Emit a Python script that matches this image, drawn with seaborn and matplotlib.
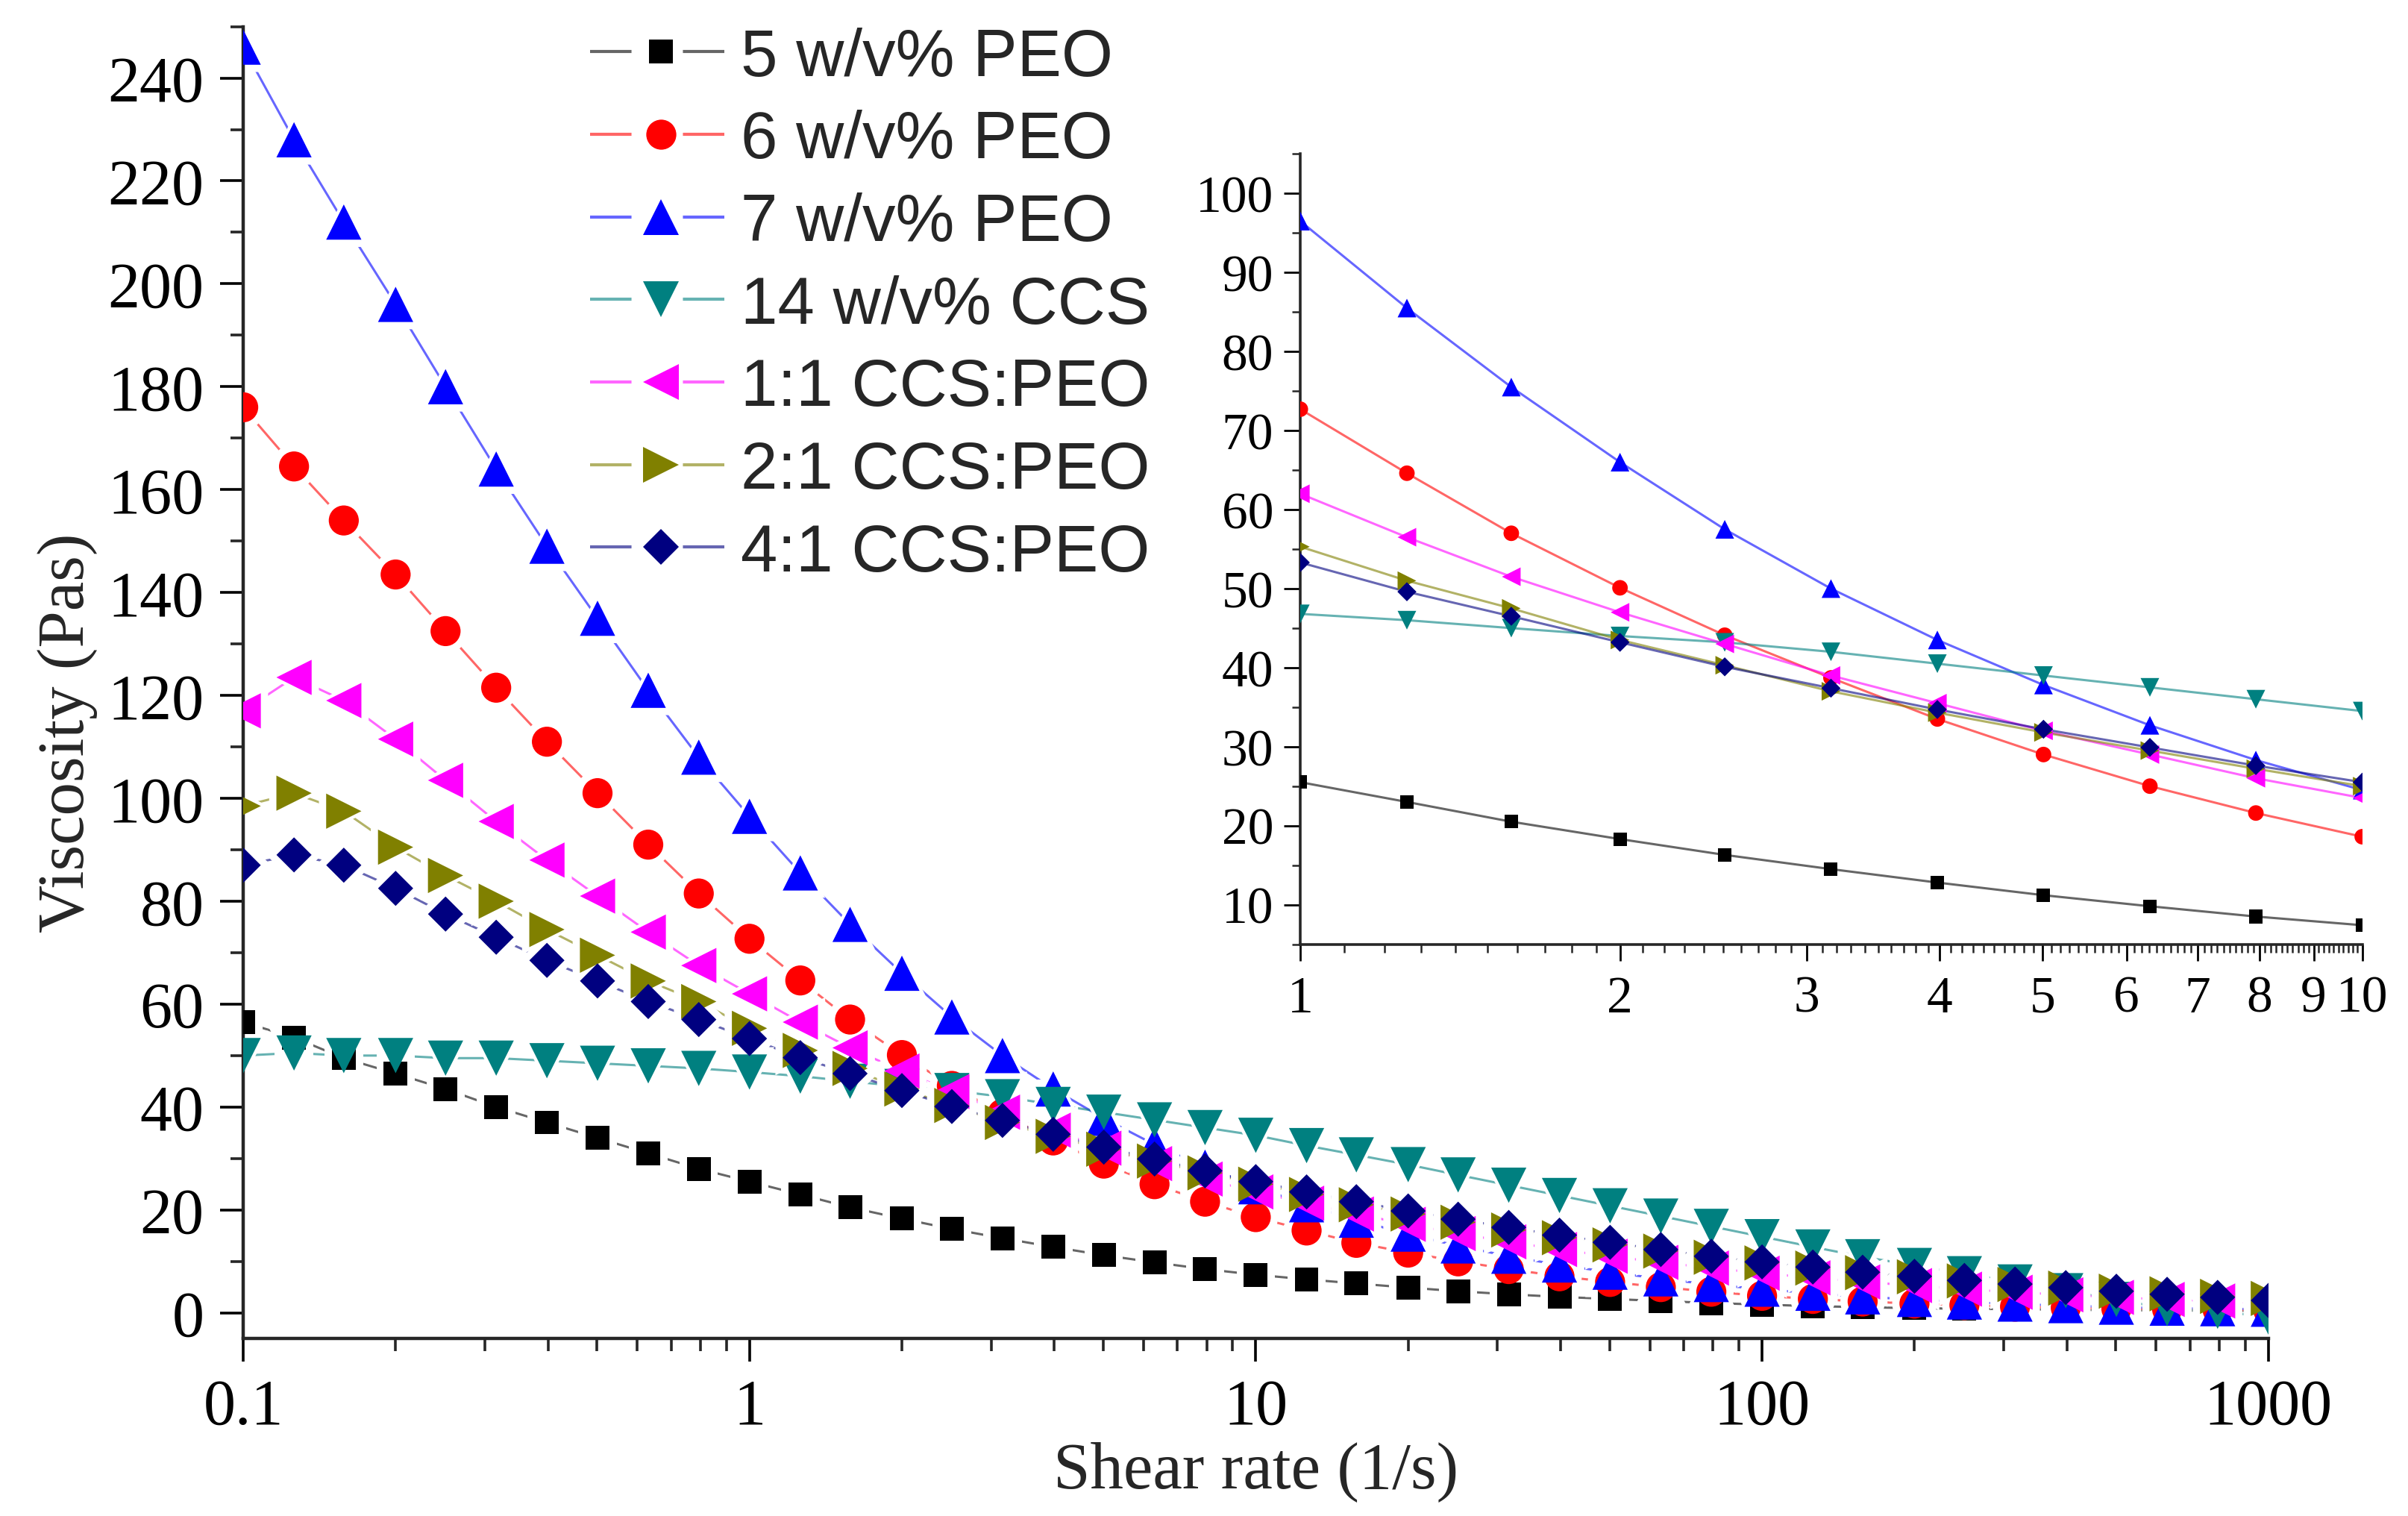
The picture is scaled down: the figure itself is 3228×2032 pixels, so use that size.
import numpy as np
import pandas as pd
import matplotlib
matplotlib.use("Agg")
import matplotlib.pyplot as plt
from matplotlib.lines import Line2D
from matplotlib.ticker import FixedLocator, NullFormatter, LogLocator, MultipleLocator
from matplotlib.colors import to_rgba
import seaborn as sns

# ---------------- data ----------------
shear_rate = [0.1, 0.126, 0.158, 0.2, 0.251, 0.316, 0.398, 0.501, 0.631, 0.794,
              1.0, 1.26, 1.58, 2.0, 2.51, 3.16, 3.98, 5.01, 6.31, 7.94,
              10.0, 12.6, 15.8, 20.0, 25.1, 31.6, 39.8, 50.1, 63.1, 79.4,
              100.0, 126.0, 158.0, 200.0, 251.0, 316.0, 398.0, 501.0, 631.0, 794.0, 1000.0]

peo5 = [56.5, 53.5, 49.5, 46.5, 43.5, 40.0, 37.0, 34.0, 31.0, 28.0,
        25.5, 23.0, 20.5, 18.3, 16.3, 14.5, 12.8, 11.2, 9.8, 8.5,
        7.4, 6.5, 5.7, 4.9, 4.2, 3.6, 3.1, 2.7, 2.3, 1.9,
        1.6, 1.3, 1.1, 0.9, 0.8, 0.7, 0.6, 0.5, 0.45, 0.4, 0.35]
peo6 = [176.0, 164.5, 154.0, 143.5, 132.5, 121.5, 111.0, 101.0, 91.0, 81.5,
        72.7, 64.6, 57.0, 50.1, 44.1, 38.7, 33.5, 29.0, 25.0, 21.6,
        18.6, 16.0, 13.6, 11.7, 10.0, 8.5, 7.1, 6.0, 5.0, 4.1,
        3.3, 2.7, 2.2, 1.8, 1.5, 1.2, 1.0, 0.8, 0.7, 0.6, 0.5]
peo7 = [246.0, 228.0, 212.0, 196.0, 180.0, 164.0, 149.0, 135.0, 121.0, 108.0,
        96.5, 85.5, 75.5, 66.0, 57.5, 50.0, 43.5, 37.8, 32.7, 28.3,
        24.5, 21.0, 18.0, 15.3, 13.0, 11.0, 9.3, 7.9, 6.6, 5.5,
        4.6, 3.8, 3.1, 2.6, 2.1, 1.7, 1.4, 1.1, 0.9, 0.8, 0.7]
ccs14 = [50.0, 50.5, 50.0, 50.0, 49.5, 49.5, 49.0, 48.5, 48.0, 47.5,
         46.8, 46.0, 45.0, 44.0, 43.2, 42.0, 40.5, 39.0, 37.5, 36.0,
         34.5, 32.5, 30.7, 28.8, 26.8, 24.8, 22.8, 20.8, 18.8, 16.8,
         14.8, 12.8, 10.9, 9.2, 7.6, 6.0, 4.3, 2.6, 0.8, 0.3, -0.8]
ccs_peo_11 = [117.0, 123.5, 119.0, 111.5, 103.5, 95.5, 88.0, 81.0, 74.0, 67.5,
              62.0, 56.5, 51.5, 47.0, 43.0, 39.0, 35.5, 32.0, 29.0, 26.0,
              23.5, 21.3, 19.2, 17.2, 15.4, 13.8, 12.3, 11.0, 9.8, 8.7,
              7.7, 6.8, 6.0, 5.3, 4.6, 4.0, 3.5, 3.0, 2.6, 2.3, 2.0]
ccs_peo_21 = [98.5, 101.0, 97.5, 90.5, 85.0, 80.0, 74.5, 69.5, 64.5, 60.5,
              55.3, 51.0, 47.5, 43.5, 40.3, 37.0, 34.3, 31.8, 29.5, 27.2,
              25.0, 23.0, 21.0, 19.2, 17.6, 16.1, 14.6, 13.2, 12.0, 10.8,
              9.7, 8.7, 7.8, 7.0, 6.2, 5.5, 4.8, 4.2, 3.7, 3.2, 2.8]
ccs_peo_41 = [87.0, 89.0, 87.0, 82.5, 77.5, 73.0, 68.5, 64.5, 60.5, 57.0,
              53.3, 49.6, 46.5, 43.2, 40.1, 37.4, 34.7, 32.2, 29.9, 27.6,
              25.5, 23.5, 21.6, 19.8, 18.2, 16.6, 15.1, 13.7, 12.3, 11.0,
              9.9, 8.9, 7.9, 7.1, 6.3, 5.6, 4.9, 4.2, 3.6, 3.0, 2.4]

series_names = ["5 w/v% PEO", "6 w/v% PEO", "7 w/v% PEO", "14 w/v% CCS",
                "1:1 CCS:PEO", "2:1 CCS:PEO", "4:1 CCS:PEO"]
series_values = [peo5, peo6, peo7, ccs14, ccs_peo_11, ccs_peo_21, ccs_peo_41]
series_colors = ["#000000", "#FF0000", "#0000FF", "#008080", "#FF00FF", "#808000", "#000080"]
series_markers = ["s", "o", "^", "v", "<", ">", "D"]
main_msize = [11.5, 14.5, 17.0, 17.0, 17.0, 17.0, 12.0]
inset_msize = [6.5, 7.5, 9.0, 9.0, 9.0, 9.0, 6.5]

inset_range = (1.0, 10.0)

# ---------------- table ----------------
frames = []
for name, vals in zip(series_names, series_values):
    frames.append(pd.DataFrame({"shear": shear_rate, "viscosity": vals, "series": name}))
df = pd.concat(frames, ignore_index=True)
df_in = df[(df["shear"] >= inset_range[0] - 1e-9) & (df["shear"] <= inset_range[1] + 1e-9)]

palette = dict(zip(series_names, series_colors))
line_palette = {k: to_rgba(c, 0.6) for k, c in palette.items()}
markers = dict(zip(series_names, series_markers))
sizes_main = {k: s ** 2 for k, s in zip(series_names, main_msize)}
sizes_halo = {k: (s + 7.0) ** 2 for k, s in zip(series_names, main_msize)}
sizes_in = {k: s ** 2 for k, s in zip(series_names, inset_msize)}

# ---------------- style ----------------
sns.set_theme(style="ticks")
plt.rcParams["font.family"] = ["Liberation Serif", "DejaVu Serif"]
plt.rcParams["lines.scale_dashes"] = False
plt.rcParams["mathtext.default"] = "regular"

fig = plt.figure(figsize=(16.14, 10.165), dpi=200)
ax = fig.add_axes([0.101, 0.117, 0.841, 0.865])
ins = fig.add_axes([0.540, 0.377, 0.441, 0.521])

# ---------------- main plot ----------------
sns.lineplot(data=df, x="shear", y="viscosity", hue="series", palette=line_palette,
             estimator=None, sort=False, legend=False, ax=ax, linewidth=1.1, zorder=1)
sns.scatterplot(data=df, x="shear", y="viscosity", style="series", markers=markers,
                size="series", sizes=sizes_halo, color="white", linewidth=0,
                legend=False, ax=ax, zorder=2)
sns.scatterplot(data=df, x="shear", y="viscosity", hue="series", palette=palette,
                style="series", markers=markers, size="series", sizes=sizes_main,
                linewidth=0, legend=False, ax=ax, zorder=3)

ax.set_xscale("log")
ax.set_xlim(0.1, 1000)
ax.set_ylim(-5, 250)
ax.xaxis.set_major_locator(FixedLocator([0.1, 1, 10, 100, 1000]))
ax.set_xticklabels(["0.1", "1", "10", "100", "1000"])
ax.xaxis.set_minor_locator(LogLocator(base=10, subs=np.arange(2, 10)))
ax.xaxis.set_minor_formatter(NullFormatter())
ax.set_yticks(np.arange(0, 241, 20))
ax.yaxis.set_minor_locator(MultipleLocator(10))

for side in ["top", "right"]:
    ax.spines[side].set_visible(False)
for side in ["left", "bottom"]:
    ax.spines[side].set_linewidth(1.6)
ax.tick_params(axis="both", which="major", direction="out", length=11, width=1.3,
               labelsize=31, pad=8, colors="black")
ax.tick_params(axis="both", which="minor", direction="out", length=6, width=1.3)
ax.set_xlabel("Shear rate (1/s)", fontsize=32)
ax.set_ylabel("Viscosity (Pas)", fontsize=32)
ax.xaxis.set_label_coords(0.5, -0.078)
ax.yaxis.set_label_coords(-0.072, 0.462)
ax.set_facecolor("white")

# legend
handles = []
for name, col, mk, ms in zip(series_names, series_colors, series_markers, main_msize):
    handles.append(Line2D([], [], color=to_rgba(col, 0.6), linewidth=1.5,
                          linestyle=(0, (20.0, 24.8)), marker=mk, markersize=ms,
                          markerfacecolor=col, markeredgecolor=col, markeredgewidth=0))
leg = fig.legend(handles=handles, labels=series_names, loc="upper left",
                 bbox_to_anchor=(0.245, 0.982), frameon=False,
                 prop={"family": "Liberation Sans", "size": 32},
                 handlelength=2.15, handletextpad=0.12, labelspacing=0.30,
                 borderaxespad=0, borderpad=0)

# ---------------- inset ----------------
sns.lineplot(data=df_in, x="shear", y="viscosity", hue="series", palette=line_palette,
             estimator=None, sort=False, legend=False, ax=ins, linewidth=1.1, zorder=1)
sns.scatterplot(data=df_in, x="shear", y="viscosity", hue="series", palette=palette,
                style="series", markers=markers, size="series", sizes=sizes_in,
                linewidth=0, legend=False, ax=ins, zorder=3)
ins.set_xscale("log")
ins.set_xlim(*inset_range)
ins.set_ylim(5, 105)
ins.xaxis.set_major_locator(FixedLocator(list(range(1, 11))))
ins.set_xticklabels([str(i) for i in range(1, 11)])
minor_x = [round(v, 1) for v in np.arange(1.1, 10.0, 0.1) if abs(v - round(v)) > 1e-6]
ins.xaxis.set_minor_locator(FixedLocator(minor_x))
ins.xaxis.set_minor_formatter(NullFormatter())
ins.set_yticks(np.arange(10, 101, 10))
ins.yaxis.set_minor_locator(MultipleLocator(5))
for side in ["top", "right"]:
    ins.spines[side].set_visible(False)
for side in ["left", "bottom"]:
    ins.spines[side].set_linewidth(1.3)
ins.tick_params(axis="both", which="major", direction="out", length=8, width=1.0,
                labelsize=25, pad=5, colors="black")
ins.tick_params(axis="x", which="major", pad=7)
ins.tick_params(axis="both", which="minor", direction="out", length=4, width=0.9)
ins.set_xlabel("")
ins.set_ylabel("")
ins.set_facecolor("none")

fig.savefig("out.png", dpi=200, facecolor="white")
